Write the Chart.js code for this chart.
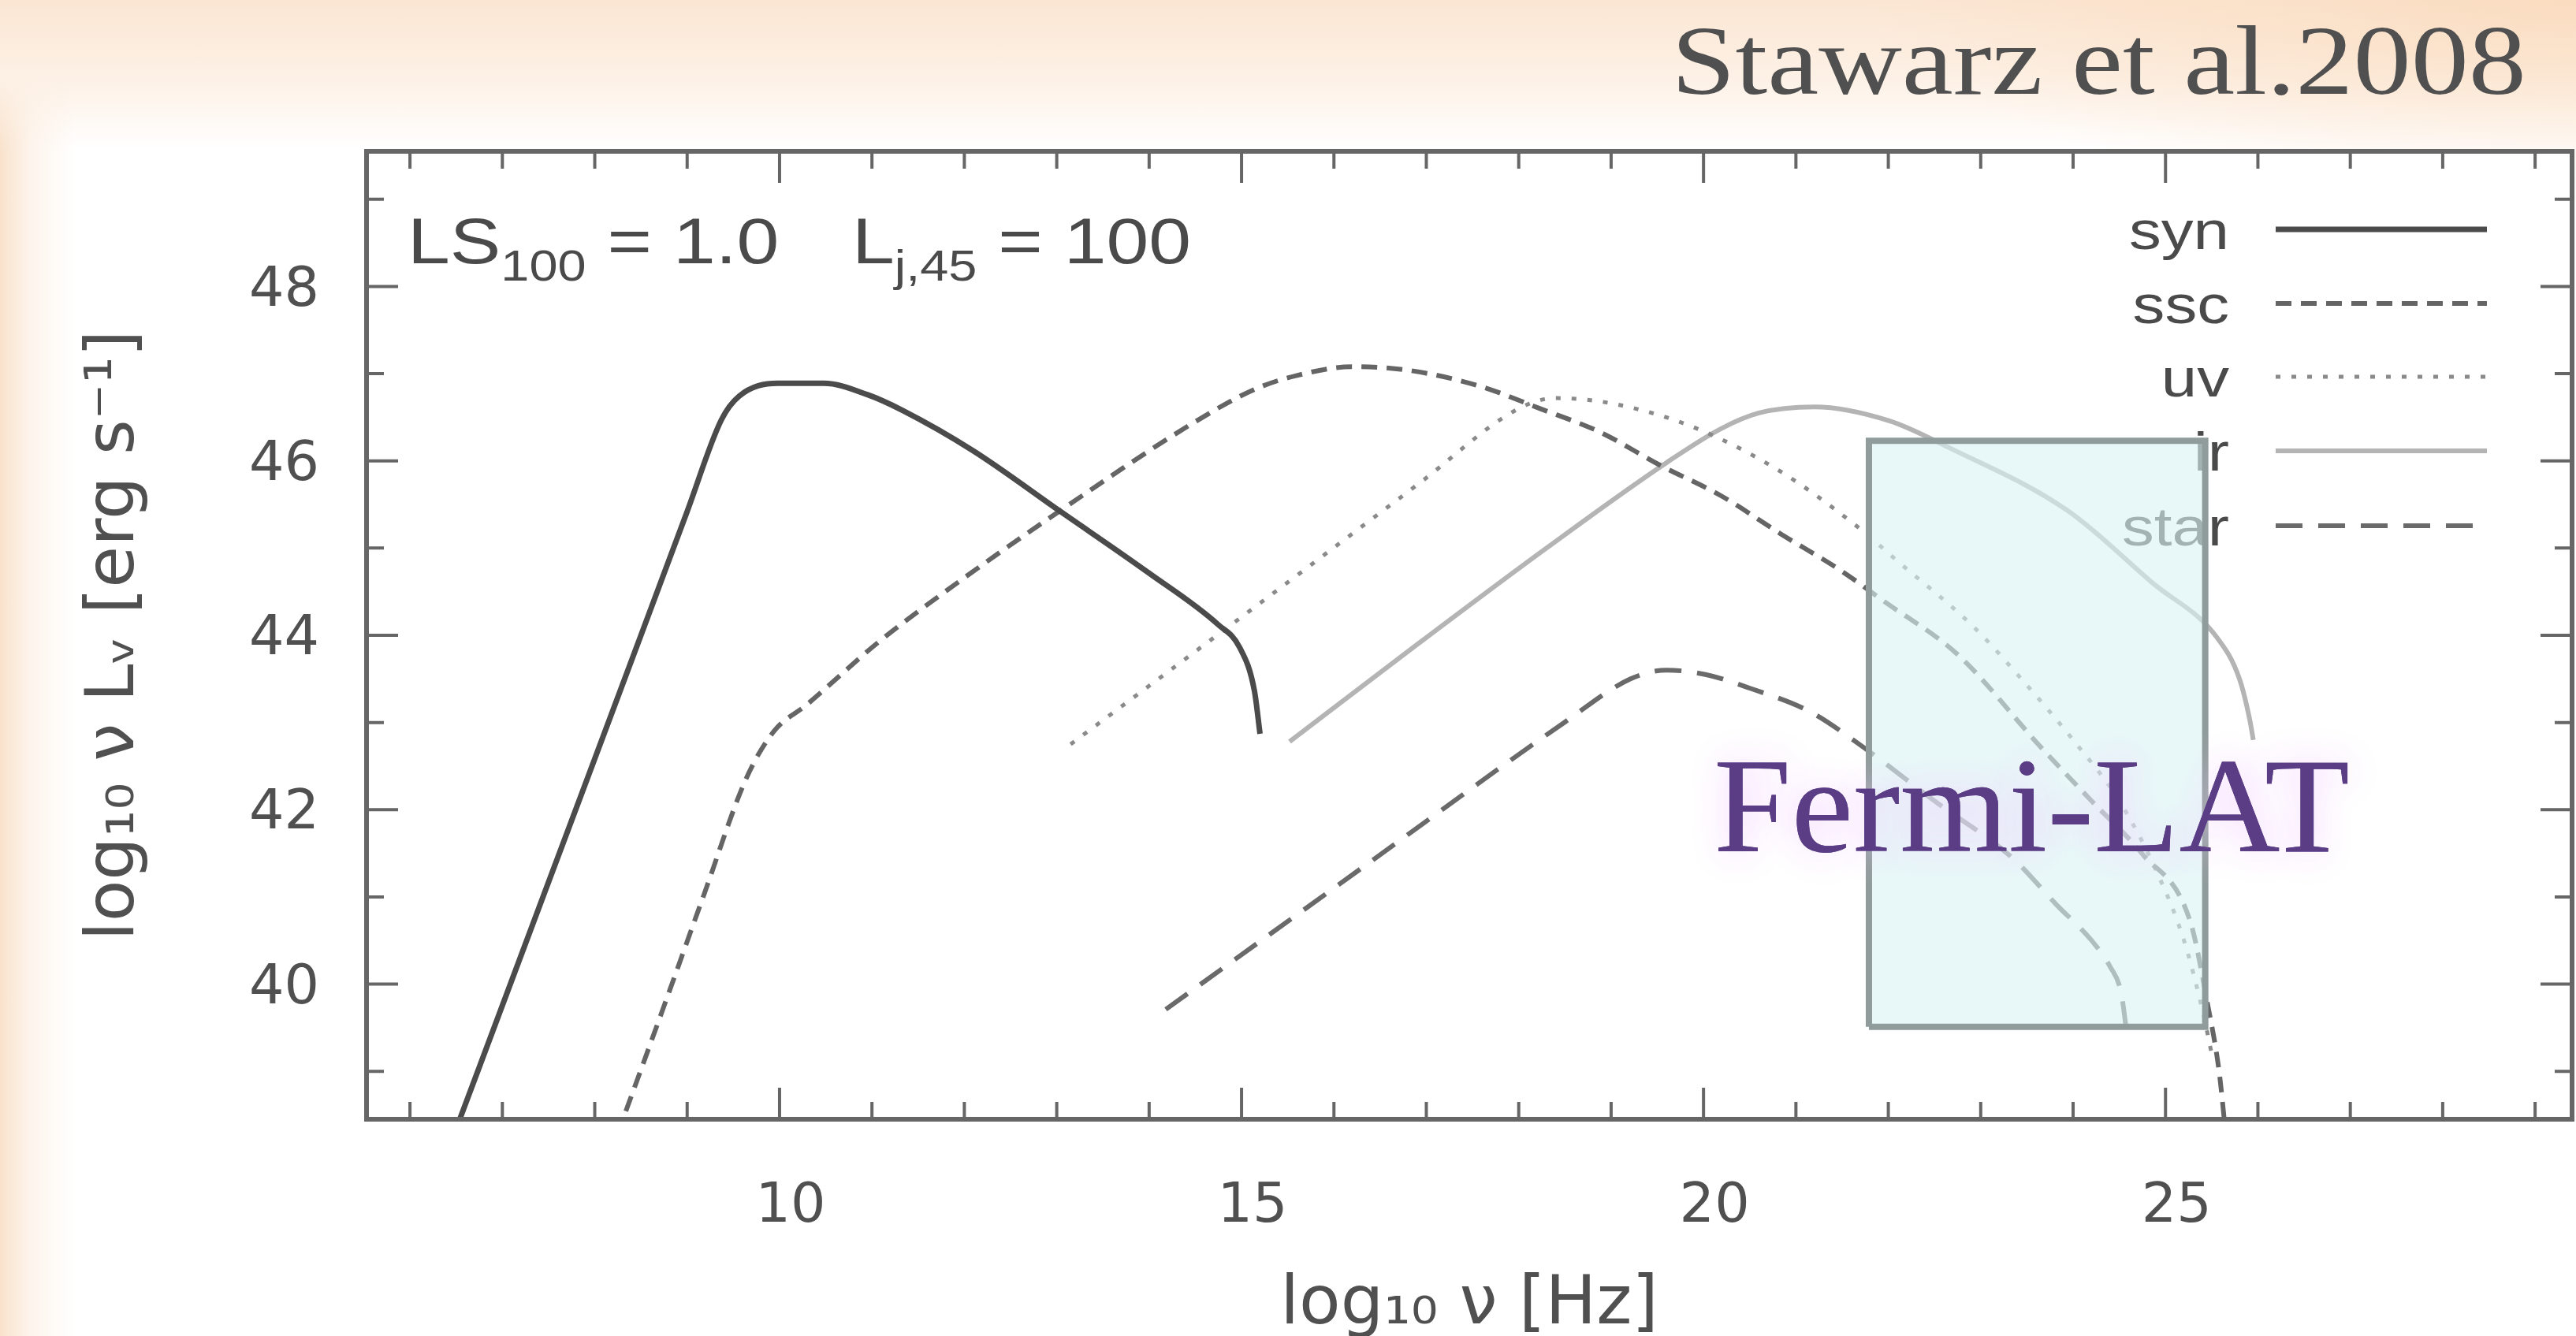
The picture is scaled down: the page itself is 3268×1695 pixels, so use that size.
<!DOCTYPE html>
<html><head><meta charset="utf-8">
<script src="https://cdn.jsdelivr.net/npm/chart.js@4/dist/chart.umd.min.js"></script>
<style>
html,body{margin:0;padding:0;width:3268px;height:1695px;overflow:hidden;}
body{background:
 radial-gradient(ellipse 900px 260px at 3268px 0px, rgba(249,214,180,0.6), rgba(249,214,180,0) 100%),
 linear-gradient(to bottom, #fbe6d3 0px, #fdf1e6 100px, rgba(255,255,255,0) 190px),
 linear-gradient(to right, #f9e2cc 0px, rgba(252,238,225,0.6) 40px, rgba(255,255,255,0) 95px),
 #ffffff;}
#wrap{position:absolute;left:0;top:0;width:3268px;height:1695px;}
</style></head>
<body><div id="wrap"><canvas id="c" width="3268" height="1695"></canvas></div>
<script>
// ---- data (log10 nu [Hz], log10 nu L_nu [erg/s]) ----
const seriesNames = ['syn', 'ssc', 'uv', 'ir', 'star'];
const synX = [6.38, 7.5, 8.5, 9.0, 9.37, 9.56, 9.98, 10.48, 10.95, 11.33, 12.09, 13.04, 13.99, 14.75, 14.98, 15.14, 15.2];
const synY = [38.0, 41.17, 44.0, 45.42, 46.47, 46.74, 46.89, 46.89, 46.76, 46.58, 46.12, 45.42, 44.72, 44.12, 43.86, 43.36, 42.87];
const sscX = [8.15, 8.73, 9.18, 9.64, 9.94, 10.29, 11.08, 12.0, 13.08, 14.5, 15.14, 15.6, 16.2, 16.8, 17.57, 18.23, 18.88, 19.53, 20.19, 20.84, 21.49, 21.94, 22.76, 23.64, 24.2, 24.75, 25.27, 25.45, 25.58, 25.65];
const sscY = [38.0, 39.69, 41.02, 42.36, 42.9, 43.2, 43.93, 44.66, 45.46, 46.45, 46.82, 46.98, 47.08, 47.04, 46.86, 46.6, 46.33, 45.95, 45.6, 45.16, 44.74, 44.4, 43.77, 42.73, 42.1, 41.49, 40.71, 39.8, 39.0, 38.3];
const uvX = [13.15, 15.0, 16.92, 18.0, 18.4, 19.0, 19.86, 20.8, 21.66, 22.1, 22.92, 23.44, 24.0, 24.5, 24.9, 25.2, 25.4, 25.5];
const uvY = [42.75, 44.21, 45.74, 46.6, 46.72, 46.66, 46.4, 45.9, 45.25, 44.85, 44.1, 43.5, 42.8, 42.1, 41.3, 40.5, 39.7, 39.2];
const irX = [15.52, 16.92, 18.3, 19.6, 20.19, 20.6, 21.2, 22.01, 22.66, 23.94, 24.86, 25.56, 25.8, 25.91, 25.95];
const irY = [42.78, 43.91, 45.0, 45.98, 46.37, 46.55, 46.62, 46.46, 46.15, 45.43, 44.6, 43.97, 43.5, 43.04, 42.8];
const starX = [14.18, 16.3, 18.48, 19.21, 19.6, 20.02, 20.51, 21.16, 21.66, 22.5, 23.35, 23.82, 24.2, 24.4, 24.52, 24.58];
const starY = [39.71, 41.33, 42.99, 43.5, 43.6, 43.55, 43.39, 43.12, 42.77, 42.1, 41.44, 40.91, 40.5, 40.2, 39.9, 39.45];
// Fermi-LAT band (x range, y range)
const latX = [21.79, 25.43];
const latY = [39.51, 46.23];
// axes
const xRange = [5.53, 29.4];
const yRange = [38.45, 49.55];
const xTickLabels = [10, 15, 20, 25];
const yTickLabels = [40, 42, 44, 46, 48];
const xTitle = 'log₁₀ ν [Hz]';
const yTitle = 'log₁₀ ν Lᵥ [erg s⁻¹]';
const chartTitle = 'Stawarz et al.2008';
const bandLabel = 'Fermi-LAT';

const pts = (xs, ys) => xs.map((x, i) => ({x: x, y: ys[i]}));
const styles = [
  {c: '#4b4b4b', w: 7, d: []},
  {c: '#656565', w: 6, d: [20, 12]},
  {c: '#8a8a8a', w: 5, d: [6, 14]},
  {c: '#b4b4b4', w: 6, d: []},
  {c: '#6a6a6a', w: 6, d: [34, 20]}
];
const series = [pts(synX, synY), pts(sscX, sscY), pts(uvX, uvY), pts(irX, irY), pts(starX, starY)];
const datasets = series.map((d, i) => ({
  label: seriesNames[i], data: d, showLine: true, pointRadius: 0, fill: false,
  borderColor: styles[i].c, borderWidth: styles[i].w, borderDash: styles[i].d,
  cubicInterpolationMode: 'monotone', order: i + 1, borderCapStyle: 'butt'
}));
datasets.push({
  label: 'Fermi-LAT', data: [
    {x: latX[0], y: latY[0]}, {x: latX[0], y: latY[1]}, {x: latX[1], y: latY[1]},
    {x: latX[1], y: latY[0]}, {x: latX[0], y: latY[0]}],
  showLine: true, pointRadius: 0, tension: 0, fill: 'shape',
  backgroundColor: 'rgba(218,243,243,0.62)', borderColor: '#909c9c', borderWidth: 8, order: 0
});

const FRAME = '#666666';
const decor = {
  id: 'decor',
  beforeDraw(chart) {
    const {ctx, chartArea: a} = chart;
    ctx.save(); ctx.fillStyle = '#ffffff';
    ctx.fillRect(a.left, a.top, a.right - a.left, a.bottom - a.top);
    ctx.restore();
  },
  beforeDatasetsDraw(chart) {
    // gnuplot-style key: label right-aligned, sample on the right
    const {ctx} = chart;
    const ys = [291, 385, 478, 572, 667];
    ctx.save();
    const sx = 1.2;
    ctx.font = '68px "Liberation Sans", Arial, sans-serif';
    ctx.fillStyle = '#4a4a4a'; ctx.textAlign = 'right'; ctx.textBaseline = 'middle';
    seriesNames.forEach((n, i) => {
      const y = ys[i];
      ctx.save(); ctx.scale(sx, 1); ctx.fillText(n, 2828 / sx, y + 6); ctx.restore();
      ctx.save();
      ctx.strokeStyle = styles[i].c; ctx.lineWidth = styles[i].w; ctx.setLineDash(styles[i].d);
      ctx.beginPath(); ctx.moveTo(2887, y); ctx.lineTo(3155, y); ctx.stroke();
      ctx.restore();
    });
    ctx.restore();
  },
  afterDatasetsDraw(chart) {
    const {ctx, chartArea: a, scales} = chart;
    // parameter label
    ctx.save();
    ctx.fillStyle = '#4a4a4a'; ctx.textBaseline = 'alphabetic'; ctx.textAlign = 'left';
    const sx = 1.18;
    const main = '82px "Liberation Sans", Arial, sans-serif';
    const sub = '55px "Liberation Sans", Arial, sans-serif';
    const drawRun = (x0, base, parts) => {
      let x = x0;
      parts.forEach(p => {
        ctx.font = p[1] ? sub : main;
        ctx.save(); ctx.scale(sx, 1);
        ctx.fillText(p[0], x / sx, base + (p[1] ? 22 : 0));
        const w = ctx.measureText(p[0]).width * sx;
        ctx.restore();
        x += w;
      });
    };
    drawRun(517, 334, [['LS', 0], ['100', 1], [' = 1.0', 0]]);
    drawRun(1081, 334, [['L', 0], ['j,45', 1], [' = 100', 0]]);
    ctx.restore();
    // frame + inward ticks on all sides
    ctx.save();
    ctx.strokeStyle = FRAME; ctx.lineWidth = 4;
    const xs = scales.x, ysc = scales.y;
    xs.ticks.forEach(t => {
      const px = xs.getPixelForValue(t.value);
      const L = xTickLabels.includes(t.value) ? 40 : 22;
      ctx.beginPath();
      ctx.moveTo(px, a.bottom); ctx.lineTo(px, a.bottom - L);
      ctx.moveTo(px, a.top); ctx.lineTo(px, a.top + L);
      ctx.stroke();
    });
    ysc.ticks.forEach(t => {
      const py = ysc.getPixelForValue(t.value);
      const L = yTickLabels.includes(t.value) ? 40 : 22;
      ctx.beginPath();
      ctx.moveTo(a.left, py); ctx.lineTo(a.left + L, py);
      ctx.moveTo(a.right, py); ctx.lineTo(a.right - L, py);
      ctx.stroke();
    });
    ctx.lineWidth = 6;
    ctx.strokeRect(a.left, a.top, a.right - a.left, a.bottom - a.top);
    ctx.restore();
    // Fermi-LAT label
    ctx.save();
    ctx.font = '172px "Liberation Serif", "Times New Roman", serif';
    ctx.textAlign = 'left'; ctx.textBaseline = 'alphabetic';
    ctx.scale(1.03, 1);
    ctx.shadowColor = 'rgba(242,205,255,0.95)'; ctx.shadowBlur = 45;
    ctx.fillStyle = '#5b3d86';
    ctx.fillText(bandLabel, 2174 / 1.03, 1080);
    ctx.shadowBlur = 0;
    ctx.fillText(bandLabel, 2174 / 1.03, 1080);
    ctx.restore();
  },
  afterDraw(chart) {
    const {ctx} = chart;
    ctx.save();
    const sx = 1.18;
    ctx.font = '124px "Liberation Serif", "Times New Roman", serif';
    ctx.fillStyle = '#505050'; ctx.textAlign = 'right'; ctx.textBaseline = 'alphabetic';
    ctx.scale(sx, 1);
    ctx.fillText(chartTitle, 3205 / sx, 119);
    ctx.restore();
  }
};

const tickFont = {family: '"DejaVu Sans", "Liberation Sans", sans-serif', size: 70};
const titleFont = {family: '"DejaVu Sans", "Liberation Sans", sans-serif', size: 86, lineHeight: 0.8};

new Chart(document.getElementById('c'), {
  type: 'scatter',
  data: {datasets: datasets},
  options: {
    responsive: false, animation: false, devicePixelRatio: 1,
    layout: {padding: {left: 0, top: 192, right: 5, bottom: 0}},
    plugins: {legend: {display: false}, tooltip: {enabled: false}, title: {display: false}},
    scales: {
      x: {
        type: 'linear', min: xRange[0], max: xRange[1],
        grid: {display: false, drawTicks: false}, border: {display: false},
        afterBuildTicks: s => { const t = []; for (let v = 6; v <= 29; v++) t.push({value: v}); s.ticks = t; },
        ticks: {autoSkip: false, maxRotation: 0, padding: 70, labelOffset: 14, color: '#505050', font: tickFont,
          callback: v => xTickLabels.includes(v) ? String(v) : ''},
        title: {display: true, text: xTitle, color: '#505050', font: titleFont, padding: {top: 0, bottom: 4}},
        afterFit: s => { s.height = 1695 - 1420; s.paddingLeft = 0; s.paddingRight = 0; }
      },
      y: {
        type: 'linear', min: yRange[0], max: yRange[1],
        grid: {display: false, drawTicks: false}, border: {display: false},
        afterBuildTicks: s => { const t = []; for (let v = 39; v <= 49; v++) t.push({value: v}); s.ticks = t; },
        ticks: {autoSkip: false, padding: 60, labelOffset: 6, color: '#505050', font: tickFont,
          callback: v => yTickLabels.includes(v) ? String(v) : ''},
        title: {display: true, text: yTitle, color: '#505050', font: titleFont, padding: {top: 112, bottom: 0}},
        afterFit: s => { s.width = 465; s.paddingTop = 0; s.paddingBottom = 0; }
      }
    }
  },
  plugins: [decor]
});
</script></body></html>
